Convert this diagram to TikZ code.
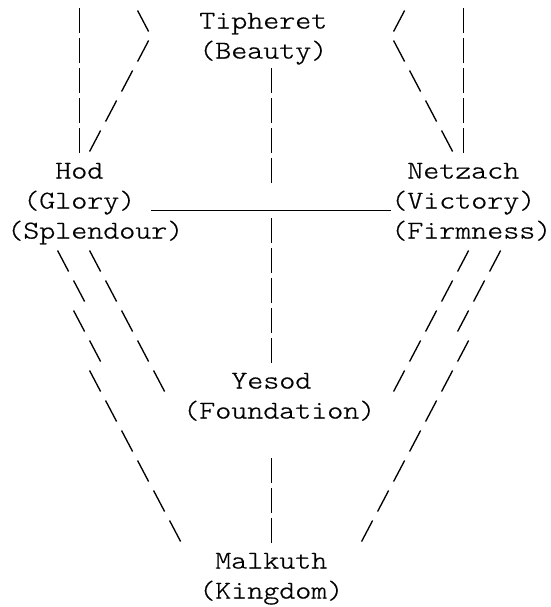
\documentclass[tikz,border=0pt]{standalone}
\usepackage{fontspec}
\usepackage{tikz}
\newfontfamily\asciifont{lmmonolt10-regular}[Extension=.otf, FakeStretch=1.19, FakeBold=0.7]
\tikzset{
x=12pt, % one character column
y=-22.5pt, % one line of text, rows count downwards
every node/.style={inner sep=0pt, outer sep=0pt, anchor=base west,
  font={\asciifont\fontsize{19.2pt}{22.5pt}\selectfont}}, % text sits on the character grid
stroke/.style={line width=1pt}, % bars, slashes and underscores
}

\begin{document}
\begin{tikzpicture}
   \useasboundingbox (-5.5pt,21.4pt) rectangle (407pt,-433.85pt);
   % sephiroth
   \node (tipheret)  at (12,0)  {Tipheret};
   \node (tipheretB) at (12,1)  {(Beauty)};
   \node (hod)       at (3,5)   {Hod};
   \node (hodB)      at (1,6)   {(Glory)};
   \node (hodC)      at (0,7)   {(Splendour)};
   \node (netzach)   at (25,5)  {Netzach};
   \node (netzachB)  at (24,6)  {(Victory)};
   \node (netzachC)  at (24,7)  {(Firmness)};
   \node (yesod)     at (14,12) {Yesod};
   \node (yesodB)    at (11,13) {(Foundation)};
   \node (malkuth)   at (13,18) {Malkuth};
   \node (malkuthB)  at (12,19) {(Kingdom)};
   % pillars, one bar per line
   \foreach \c/\r in {4/0,4/1,4/2,4/3,4/4,28/0,28/1,28/2,28/3,28/4}
      \draw[stroke] (\c+0.5,\r-0.67) -- (\c+0.5,\r+0.16);
   \foreach \r in {2,3,4,5,7,8,9,10,11,15,16,17}
      \draw[stroke] (16.5,\r-0.67) -- (16.5,\r+0.16);
   % Hod -- Netzach
   \draw[stroke] ([shift={(12pt,-1.6pt)}]hodB.base east) -- ([yshift=-1.6pt]netzachB.base west);
   % backslashes: Tipheret -- Netzach, Hod -- Yesod, Hod -- Malkuth
   \foreach \c/\r in {8/0,24/1,25/2,26/3,27/4,
                      5/8,6/9,7/10,8/11,9/12,
                      3/8,4/9,4/10,5/11,5/12,6/13,7/14,8/15,9/16,10/17}
      \draw[stroke] (\c+0.14,\r-0.6) -- (\c+0.83,\r+0.1);
   % slashes: Tipheret -- Hod, Netzach -- Yesod, Netzach -- Malkuth
   \foreach \c/\r in {24/0,8/1,7/2,6/3,5/4,
                      28/8,27/9,26/10,25/11,24/12,
                      30/8,29/9,28/10,28/11,27/12,26/13,25/14,24/15,23/16,22/17}
      \draw[stroke] (\c+0.14,\r+0.1) -- (\c+0.83,\r-0.6);
\end{tikzpicture}
\end{document}
